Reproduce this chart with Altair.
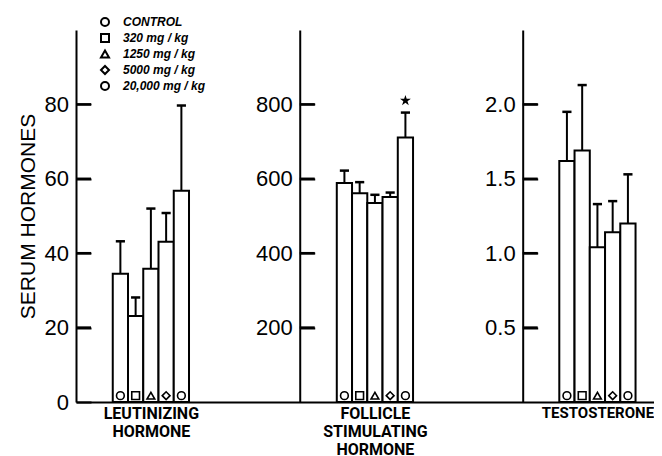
import altair as alt
import pandas as pd

# ---------------- data ----------------
doses = ["CONTROL", "320 mg / kg", "1250 mg / kg", "5000 mg / kg", "20,000 mg / kg"]
dose_shapes = ["circle", "square", "triangle-up", "diamond", "circle"]

lh_labels = ["LEUTINIZING", "HORMONE"]
lh_mean = [34.5, 23.1, 35.8, 43.1, 56.8]
lh_err = [8.7, 5.0, 16.2, 7.7, 22.9]
lh_sig = [False, False, False, False, False]
lh_ticks = [0, 20, 40, 60, 80]

fsh_labels = ["FOLLICLE", "STIMULATING", "HORMONE"]
fsh_mean = [589, 561, 535, 551, 711]
fsh_err = [33, 30, 22, 12, 67]
fsh_sig = [False, False, False, False, True]
fsh_ticks = [200, 400, 600, 800]

t_labels = ["TESTOSTERONE"]
t_mean = [1.62, 1.69, 1.04, 1.14, 1.20]
t_err = [0.33, 0.44, 0.29, 0.21, 0.33]
t_sig = [False, False, False, False, False]
t_ticks = [0.5, 1.0, 1.5, 2.0]

y_title = "SERUM HORMONES"

# ---------------- layout / style ----------------
FONT = "Liberation Sans, Arial, sans-serif"
CAT_FONT = "Roboto, Liberation Sans, sans-serif"
STAR = ("M0,-1L0.2245,-0.309L0.951,-0.309L0.363,0.118L0.588,0.809L0,0.382"
        "L-0.588,0.809L-0.363,0.118L-0.951,-0.309L-0.2245,-0.309Z")
W, H = 578, 372
XMIN, XMAX = -2.41, 35.49            # horizontal extent in bar-width units
PPU = W / (XMAX - XMIN)              # pixels per bar-width unit
GROUP_START = [0.0, 14.69, 29.28]    # where each hormone's bar group begins
AXIS_AT = [-2.41, 12.26, 26.88]      # where each hormone's value axis stands
TICK_LEN = 15                        # inward tick length, px
LABEL_GAP = 7.5                      # gap between tick labels and axis line, px

xs = alt.Scale(domain=[XMIN, XMAX], nice=False, zero=False)
shape_scale = alt.Scale(domain=doses, range=dose_shapes)

centers = [g + len(doses) / 2 for g in GROUP_START]
all_labels = [lh_labels, fsh_labels, t_labels]
arrs = ["[" + ",".join("'" + s + "'" for s in lab) + "]" for lab in all_labels]
mid01 = (centers[0] + centers[1]) / 2
mid12 = (centers[1] + centers[2]) / 2
label_expr = (f"datum.value < {mid01} ? {arrs[0]} : "
              f"datum.value < {mid12} ? {arrs[1]} : {arrs[2]}")
xaxis = alt.Axis(values=centers, labelExpr=label_expr, ticks=False, grid=False,
                 domainColor="black", domainWidth=2, labelFont=CAT_FONT,
                 labelFontSize={"condition": {"test": f"datum.value > {mid12}",
                                              "value": 15}, "value": 16},
                 labelFontWeight="bold", labelColor="black",
                 labelLineHeight=18, labelPadding=3, labelBaseline="top",
                 labelFlush=False, labelOverlap=False)


def panel(k, means, errs, sig, ymax, ticks, fmt, title, legend):
    g = GROUP_START[k]
    df = pd.DataFrame({"dose": doses, "i": list(range(len(doses))),
                       "mean": means, "err": errs, "sig": sig})
    df["x0"] = g + df["i"]
    df["x1"] = df["x0"] + 1
    df["xc"] = df["x0"] + 0.5
    df["cl"] = df["xc"] - 0.3
    df["cr"] = df["xc"] + 0.3
    df["top"] = df["mean"] + df["err"]
    df["base"] = 0
    df["my"] = ymax * 0.017
    nz = [t for t in ticks if t != 0]
    df["tval"] = nz + [None] * (len(doses) - len(nz))
    df["tx0"] = AXIS_AT[k]
    df["tx1"] = AXIS_AT[k] + TICK_LEN / PPU

    ys = alt.Scale(domain=[0, ymax], nice=False, zero=True)
    offset = -(AXIS_AT[k] - XMIN) * PPU
    yaxis = alt.Axis(values=ticks, format=fmt, ticks=True,
                     tickSize={"expr": f"-{TICK_LEN}"}, tickWidth=2,
                     tickColor="black", grid=False,
                     orient="left", offset=offset, zindex=1,
                     domainColor="black", domainWidth=2, labelFont=FONT,
                     labelFontSize=22, labelColor="black",
                     labelPadding=TICK_LEN + LABEL_GAP,
                     labelFlush=False, labelOverlap=False,
                     titleFont=FONT, titleFontSize=21,
                     titleFontWeight="normal", titleColor="black", titlePadding=6)

    def X(f):
        return alt.X(f, scale=xs, axis=xaxis, title=None)

    def Y(f):
        return alt.Y(f, scale=ys, axis=yaxis, title=title)

    base = alt.Chart(df)
    bars = base.mark_bar(fill="white", stroke="black", strokeWidth=2).encode(
        x=X("x0:Q"), x2="x1:Q", y=Y("mean:Q"), y2="base:Q")
    err = base.mark_rule(color="black", strokeWidth=2).encode(
        x=X("xc:Q"), y=Y("mean:Q"), y2="top:Q")
    cap = base.mark_rule(color="black", strokeWidth=2.5).encode(
        x=X("cl:Q"), x2="cr:Q", y=Y("top:Q"))
    tick_rules = base.transform_filter("isValid(datum.tval)").mark_rule(
        color="black", strokeWidth=2.5).encode(
        x=X("tx0:Q"), x2="tx1:Q", y=Y("tval:Q"))
    if legend:
        leg = alt.Legend(orient="none", legendX=23, legendY=-14, title=None,
                         labelFont=FONT, labelFontSize=12, labelFontStyle="italic",
                         labelFontWeight="bold", labelColor="black",
                         symbolStrokeColor="black", symbolFillColor="white",
                         symbolStrokeWidth=2, symbolSize=64, labelOffset=12,
                         rowPadding=0, padding=0)
        shape = alt.Shape("dose:N", scale=shape_scale, legend=leg)
    else:
        shape = alt.Shape("dose:N", scale=shape_scale, legend=None)
    marks = base.mark_point(filled=False, color="black", strokeWidth=1.6, size=60,
                            opacity=1).encode(x=X("xc:Q"), y=Y("my:Q"), shape=shape)
    layers = [bars, err, cap, tick_rules, marks]
    if any(sig):
        star = base.transform_filter("datum.sig").mark_point(
            shape=STAR, filled=True, color="black", size=130, yOffset=-12, opacity=1
        ).encode(x=X("xc:Q"), y=Y("top:Q"))
        layers.append(star)
    return alt.layer(*layers)


p1 = panel(0, lh_mean, lh_err, lh_sig, 100, lh_ticks, "d", y_title, True)
p2 = panel(1, fsh_mean, fsh_err, fsh_sig, 1000, fsh_ticks, "d", None, False)
p3 = panel(2, t_mean, t_err, t_sig, 2.5, t_ticks, ".1f", None, False)

chart = (
    alt.layer(p1, p2, p3)
    .resolve_scale(y="independent")
    .properties(width=W, height=H,
                padding={"left": 68, "top": 22, "right": 0, "bottom": 56},
                autosize=alt.AutoSizeParams(type="none"),
                background="white")
    .configure_view(stroke=None)
)

chart.save("out.html", embed_options={"renderer": "svg", "actions": False})
